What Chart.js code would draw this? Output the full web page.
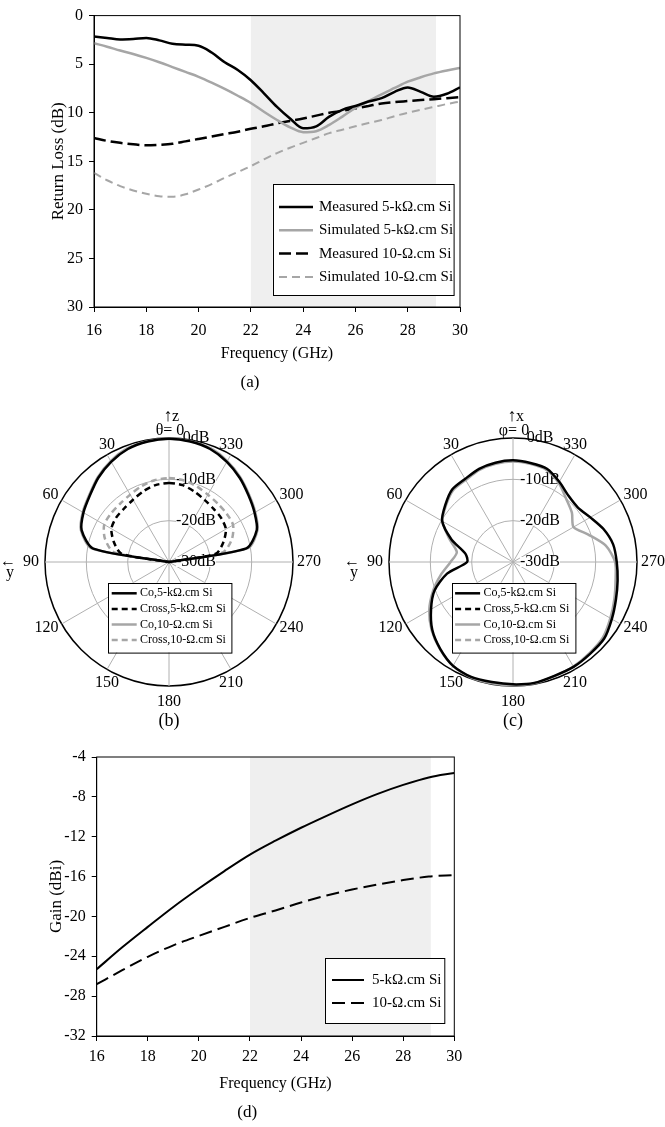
<!DOCTYPE html>
<html lang="en">
<head>
<meta charset="utf-8">
<title>Return loss, radiation patterns and gain</title>
<script src="https://cdn.jsdelivr.net/npm/chart.js@4.4.1/dist/chart.umd.min.js"></script>
<style>
  body { margin: 0; background: #fff; }
  #painel { position: relative; width: 665px; height: 1127px; }
  #painel canvas { position: absolute; }
</style>
</head>
<body>
<div id="painel">
  <canvas id="grafico-perda" width="665" height="400" style="left:0;top:0"></canvas>
  <canvas id="grafico-theta" width="340" height="330" style="left:0;top:400px"></canvas>
  <canvas id="grafico-phi" width="325" height="330" style="left:340px;top:400px"></canvas>
  <canvas id="grafico-ganho" width="665" height="397" style="left:0;top:730px"></canvas>
</div>
<script>
const FONTE = '"Liberation Serif", "Times New Roman", serif';

// (a) return loss (dB) vs frequency (GHz)
const frequencias = [16, 16.5, 17, 17.5, 18, 18.5, 19, 19.5, 20, 20.5, 21, 21.5, 22, 22.5, 23,
  23.5, 24, 24.5, 25, 25.5, 26, 26.5, 27, 27.5, 28, 28.5, 29, 29.5, 30];
const medido5k = [2.15, 2.3, 2.45, 2.4, 2.3, 2.55, 2.9, 3.0, 3.1, 3.8, 4.8, 5.6, 6.65, 8.0, 9.4,
  10.6, 11.6, 11.4, 10.4, 9.7, 9.3, 8.85, 8.5, 7.85, 7.4, 7.85, 8.35, 8.05, 7.4];
const simulado5k = [2.85, 3.2, 3.6, 3.95, 4.35, 4.8, 5.3, 5.8, 6.3, 6.9, 7.55, 8.25, 9.0, 9.9, 10.75,
  11.5, 12.0, 11.9, 11.25, 10.4, 9.5, 8.8, 8.1, 7.45, 6.8, 6.35, 5.95, 5.65, 5.4];
const medido10 = [12.6, 12.9, 13.1, 13.25, 13.35, 13.3, 13.2, 12.95, 12.7, 12.45, 12.2, 11.95, 11.65, 11.4, 11.1,
  10.85, 10.6, 10.3, 10.0, 9.8, 9.55, 9.3, 9.05, 8.9, 8.8, 8.7, 8.6, 8.5, 8.4];
const simulado10 = [16.2, 16.95, 17.55, 18.0, 18.35, 18.6, 18.65, 18.4, 17.9, 17.35, 16.7, 16.1, 15.5, 14.8, 14.15,
  13.6, 13.1, 12.6, 12.1, 11.75, 11.4, 11.05, 10.75, 10.35, 10.0, 9.7, 9.4, 9.1, 8.85];
const ticksPerda = [0, 5, 10, 15, 20, 25, 30];
const ticksFreq = [16, 18, 20, 22, 24, 26, 28, 30];
const banda = [22, 29.08];

// (d) gain (dBi) vs frequency (GHz)
const frequenciasGanho = [16, 17, 18, 19, 20, 21, 22, 23, 24, 25, 26, 27, 28, 29, 30];
const ganho5k = [-25.3, -23.1, -21.05, -19.05, -17.2, -15.45, -13.8, -12.4, -11.1, -9.9, -8.75, -7.7, -6.8, -6.05, -5.6];
const ganho10 = [-26.8, -25.4, -24.05, -22.9, -21.95, -21.05, -20.15, -19.4, -18.6, -17.9, -17.3, -16.8, -16.35, -16.0, -15.85];
const ticksGanho = [-32, -28, -24, -20, -16, -12, -8, -4];

// (b)/(c) patterns in dB, angles counter-clockwise from the top; -30 is the floor of the plot
const angulos = [0, 10, 20, 30, 40, 50, 60, 70, 80, 90, 100, 110, 120, 130, 140, 150, 160, 170,
  180, 190, 200, 210, 220, 230, 240, 250, 260, 270, 280, 290, 300, 310, 320, 330, 340, 350];
const aneisDb = [-30, -20, -10, 0];
const coTheta5k = [-0.2, -0.4, -0.9, -2.0, -3.4, -5.0, -6.1, -7.5, -11.4, -30,
  -30, -30, -30, -30, -30, -30, -30, -30, -30, -30, -30, -30, -30, -30, -30, -30, -30,
  -30, -11.0, -7.4, -6.1, -4.9, -3.4, -2.0, -0.9, -0.4];
const crossTheta5k = [-10.9, -11.1, -11.8, -12.6, -13.1, -13.3, -13.9, -15.8, -18.3, -30,
  -30, -30, -30, -30, -30, -30, -30, -30, -30, -30, -30, -30, -30, -30, -30, -30, -30,
  -30, -18.5, -16.0, -14.1, -13.5, -13.2, -12.7, -11.9, -11.1];
const coTheta10 = [-0.1, -0.3, -0.7, -1.8, -3.2, -4.8, -5.9, -7.3, -11.0, -30,
  -30, -30, -30, -30, -30, -30, -30, -30, -30, -30, -30, -30, -30, -30, -30, -30, -30,
  -30, -10.6, -7.2, -5.9, -4.7, -3.2, -1.8, -0.7, -0.3];
const crossTheta10 = [-9.7, -9.9, -10.5, -11.2, -11.6, -11.7, -11.9, -13.5, -16.5, -30,
  -30, -30, -30, -30, -30, -30, -30, -30, -30, -30, -30, -30, -30, -30, -30, -30, -30,
  -30, -16.8, -13.8, -12.1, -11.8, -11.6, -11.2, -10.5, -9.9];
const coPhi5k = [-5.4, -5.6, -6.0, -6.8, -7.1, -8.6, -10.2, -14.2, -18.3, -18.9,
  -13.8, -9.8, -7.1, -4.5, -2.6, -1.0, -0.4, -0.5, -0.4,
  -0.3, -0.7, -0.7, -1.0, -1.2, -2.4, -3.5, -4.3, -4.9,
  -5.4, -6.7, -8.4, -9.5, -9.1, -7.6, -6.0, -5.7];
const coPhi10 = [-5.7, -5.9, -6.3, -7.1, -7.4, -8.8, -10.3, -13.6, -16.2, -14.9,
  -12.3, -9.4, -6.6, -4.3, -2.5, -1.0, -0.3, -0.2, -0.2,
  -0.2, -0.6, -0.8, -1.2, -1.6, -2.8, -3.9, -4.8, -5.3,
  -7.2, -10.6, -13.1, -11.4, -10.0, -7.9, -6.3, -5.9];
const crossPhi5k = [];   // below -30 dB, nothing drawn
const crossPhi10 = [];

// gray band behind the line charts
const faixa = {
  id: 'faixa',
  beforeDraw(chart, args, o) {
    const { ctx, chartArea: a, scales: { x } } = chart;
    const x0 = x.getPixelForValue(o.de);
    const x1 = x.getPixelForValue(o.ate);
    ctx.save();
    ctx.fillStyle = '#efefef';
    ctx.fillRect(x0, a.top, x1 - x0, a.bottom - a.top);
    ctx.restore();
  }
};

// box round the plot area
const moldura = {
  id: 'moldura',
  afterDatasetsDraw(chart) {
    const { ctx, chartArea: a } = chart;
    ctx.save();
    ctx.strokeStyle = '#000';
    ctx.lineWidth = 1;
    ctx.strokeRect(a.left, a.top, a.right - a.left, a.bottom - a.top);
    ctx.restore();
  }
};

// boxed legend at a fixed spot, built from the datasets
const caixaLegenda = {
  id: 'caixaLegenda',
  afterDraw(chart, args, o) {
    const ctx = chart.ctx;
    ctx.save();
    ctx.fillStyle = '#fff';
    ctx.fillRect(o.x, o.y, o.w, o.h);
    ctx.strokeStyle = '#000';
    ctx.lineWidth = 1;
    ctx.strokeRect(Math.round(o.x) + 0.5, Math.round(o.y) + 0.5, o.w, o.h);
    ctx.font = o.tamanho + 'px ' + FONTE;
    ctx.textBaseline = 'middle';
    ctx.textAlign = 'left';
    chart.data.datasets.forEach((ds, i) => {
      const y = o.y + o.primeira + i * o.passo;
      ctx.strokeStyle = ds.borderColor;
      ctx.lineWidth = ds.borderWidth;
      ctx.setLineDash(ds.borderDash || []);
      ctx.beginPath();
      ctx.moveTo(o.x + o.linha[0], y);
      ctx.lineTo(o.x + o.linha[1], y);
      ctx.stroke();
      ctx.setLineDash([]);
      ctx.fillStyle = '#000';
      ctx.fillText(ds.label, o.x + o.texto, y);
    });
    ctx.restore();
  }
};

// ring labels, angle labels and captions of the polar plots
const textoPolar = {
  id: 'textoPolar',
  beforeDatasetsDraw(chart) {
    const r = chart.scales.r, ctx = chart.ctx;
    ctx.save();
    ctx.font = '16px ' + FONTE;
    ctx.textAlign = 'center';
    ctx.textBaseline = 'middle';
    r.ticks.forEach(t => {
      const txt = t.value + 'dB';
      const y = r.yCenter - r.getDistanceFromCenterForValue(t.value);
      const w = ctx.measureText(txt).width;
      if (t.value !== 0) {
        ctx.fillStyle = '#fff';
        ctx.fillRect(r.xCenter + 27 - w / 2, y - 5, w, 10);
      }
      ctx.fillStyle = '#000';
      ctx.fillText(txt, r.xCenter + 27, y);
    });
    ctx.restore();
  },
  afterDraw(chart, args, o) {
    const r = chart.scales.r, ctx = chart.ctx;
    const cx = r.xCenter, cy = r.yCenter, R = r.drawingArea;
    ctx.save();
    ctx.fillStyle = '#000';
    ctx.font = '16px ' + FONTE;
    ctx.textBaseline = 'middle';
    chart.data.labels.forEach((rot, i) => {
      const ang = Number(rot);
      if (ang % 30 !== 0 || ang === 0) return;
      const p = r.getPointPosition(i, R);
      let x = p.x, y = p.y;
      ctx.textAlign = 'center';
      if (ang === 30 || ang === 330) y -= 10;
      else if (ang === 150 || ang === 210) y += 13;
      else if (ang === 180) y += 16;
      else if (ang < 180) {
        ctx.textAlign = 'right';
        x -= ang === 90 ? 6 : 3;
        y += ang === 60 ? -5 : ang === 120 ? 4 : 0;
      } else {
        ctx.textAlign = 'left';
        x += ang === 270 ? 4 : 3;
        y += ang === 300 ? -5 : ang === 240 ? 4 : 0;
      }
      ctx.fillText(rot, x, y);
      if (ang === 90) {
        const esq = x - ctx.measureText(rot).width;
        ctx.textAlign = 'center';
        ctx.fillText('←', esq - 15, y);
        ctx.fillText(o.eixoLado, esq - 13, y + 11);
      }
    });
    ctx.textAlign = 'center';
    ctx.fillText(o.topo, cx + 1, cy - R - 7);
    ctx.font = '18px ' + FONTE;
    ctx.fillText('↑', cx - 1, cy - R - 22);
    ctx.font = '16px ' + FONTE;
    ctx.textAlign = 'left';
    ctx.fillText(o.eixoTopo, cx + 3, cy - R - 21);
    ctx.textAlign = 'center';
    ctx.font = '18px ' + FONTE;
    ctx.fillText(o.letra, cx, cy + 159);
    ctx.restore();
  }
};

function criarGraficoLinha(id, cfg) {
  const ctx = document.getElementById(id).getContext('2d');
  new Chart(ctx, {
    type: 'line',
    data: {
      datasets: cfg.series.map(s => ({
        label: s.nome,
        data: s.x.map((f, i) => ({ x: f, y: s.valores[i] })),
        borderColor: s.cor,
        borderWidth: s.largura,
        borderDash: s.traco || [],
        pointRadius: 0,
        fill: false,
        cubicInterpolationMode: 'monotone'
      }))
    },
    options: {
      responsive: false,
      animation: false,
      events: [],
      layout: { padding: { left: 40, right: cfg.direita, top: cfg.topo, bottom: cfg.baixo } },
      plugins: {
        legend: { display: false },
        tooltip: { enabled: false },
        title: {
          display: true, text: cfg.letra, position: 'bottom', color: '#000',
          font: { family: FONTE, size: 17, weight: 'normal' }, padding: { top: 4, bottom: 4 }
        },
        faixa: { de: banda[0], ate: banda[1] },
        caixaLegenda: cfg.legenda
      },
      scales: {
        x: {
          type: 'linear', min: 16, max: 30,
          afterBuildTicks: s => { s.ticks = ticksFreq.map(v => ({ value: v })); },
          afterFit: s => { s.height = cfg.alturaX; },
          ticks: { color: '#000', font: { family: FONTE, size: 16 }, padding: cfg.padTickX, maxRotation: 0 },
          grid: { drawOnChartArea: false, color: '#000', tickLength: 5 },
          border: { color: '#000' },
          title: {
            display: true, text: 'Frequency (GHz)', color: '#000',
            font: { family: FONTE, size: 16 }, padding: { top: 0, bottom: cfg.padTituloX }
          }
        },
        y: {
          min: cfg.min, max: cfg.max, reverse: cfg.inverso,
          afterBuildTicks: s => { s.ticks = cfg.ticksY.map(v => ({ value: v })); },
          afterFit: s => { s.width = cfg.larguraY; },
          ticks: { color: '#000', font: { family: FONTE, size: 16 }, padding: 6 },
          grid: { drawOnChartArea: false, color: '#000', tickLength: 5 },
          border: { color: '#000' },
          title: {
            display: true, text: cfg.tituloY, color: '#000',
            font: { family: FONTE, size: 17 }, padding: { top: cfg.padTituloY, bottom: 0 }
          }
        }
      }
    },
    plugins: [faixa, moldura, caixaLegenda]
  });
}

function criarGraficoPolar(id, series, padEsq, padDir, legenda, textos) {
  // Chart.js goes clockwise, the figure counter-clockwise
  const ordem = angulos.map((a, i) => (angulos.length - i) % angulos.length);
  const ctx = document.getElementById(id).getContext('2d');
  new Chart(ctx, {
    type: 'radar',
    data: {
      labels: ordem.map(k => String(angulos[k])),
      datasets: series.map(s => ({
        label: s.nome,
        data: s.valores.length ? ordem.map(k => s.valores[k]) : [],
        borderColor: s.cor,
        borderWidth: s.largura,
        borderDash: s.traco || [],
        backgroundColor: 'transparent',
        fill: false,
        pointRadius: 0,
        tension: 0.25
      }))
    },
    options: {
      responsive: false,
      animation: false,
      events: [],
      layout: { padding: { left: padEsq, right: padDir, top: 38, bottom: 44 } },
      plugins: {
        legend: { display: false },
        tooltip: { enabled: false },
        caixaLegenda: legenda,
        textoPolar: textos
      },
      scales: {
        r: {
          min: -30, max: 0,
          afterBuildTicks: s => { s.ticks = aneisDb.map(v => ({ value: v })); },
          ticks: { display: false },
          pointLabels: { display: false },
          grid: {
            circular: true,
            color: c => c.tick.value === 0 ? '#000' : '#b0b0b0',
            lineWidth: c => c.tick.value === 0 ? 1.5 : 1
          },
          angleLines: {
            color: c => Number(c.label) % 30 === 0 ? '#b0b0b0' : 'transparent',
            lineWidth: 1
          }
        }
      }
    },
    plugins: [textoPolar, caixaLegenda]
  });
}

const CINZA = '#a6a6a6';

window.addEventListener('load', () => {
  criarGraficoLinha('grafico-perda', {
    series: [
      { nome: 'Measured 5-kΩ.cm Si', x: frequencias, valores: medido5k, cor: '#000', largura: 2.5 },
      { nome: 'Simulated 5-kΩ.cm Si', x: frequencias, valores: simulado5k, cor: CINZA, largura: 2.5 },
      { nome: 'Measured 10-Ω.cm Si', x: frequencias, valores: medido10, cor: '#000', largura: 2.5, traco: [12, 5] },
      { nome: 'Simulated 10-Ω.cm Si', x: frequencias, valores: simulado10, cor: CINZA, largura: 2, traco: [8, 5] }
    ],
    min: 0, max: 30, inverso: true, ticksY: ticksPerda, tituloY: 'Return Loss (dB)', letra: '(a)',
    topo: 13, direita: 205, baixo: 3.6, alturaX: 61, padTickX: 9, padTituloX: 4.5,
    larguraY: 54, padTituloY: 8,
    legenda: { x: 272.7, y: 184.3, w: 180.6, h: 111, primeira: 22.7, passo: 23.3, linha: [6.3, 40.3], texto: 46.3, tamanho: 15 }
  });

  criarGraficoPolar('grafico-theta', [
    { nome: 'Co,5-kΩ.cm Si', valores: coTheta5k, cor: '#000', largura: 2.5 },
    { nome: 'Cross,5-kΩ.cm Si', valores: crossTheta5k, cor: '#000', largura: 2.5, traco: [6, 4] },
    { nome: 'Co,10-Ω.cm Si', valores: coTheta10, cor: CINZA, largura: 2.5 },
    { nome: 'Cross,10-Ω.cm Si', valores: crossTheta10, cor: CINZA, largura: 2.5, traco: [6, 4] }
  ], 45, 47,
  { x: 108.3, y: 182.7, w: 123.4, h: 69.6, primeira: 10.6, passo: 15.6, linha: [3.4, 28.4], texto: 31.7, tamanho: 12 },
  { topo: 'θ= 0', eixoTopo: 'z', eixoLado: 'y', letra: '(b)' });

  criarGraficoPolar('grafico-phi', [
    { nome: 'Co,5-kΩ.cm Si', valores: coPhi5k, cor: '#000', largura: 2.5 },
    { nome: 'Cross,5-kΩ.cm Si', valores: crossPhi5k, cor: '#000', largura: 2.5, traco: [6, 4] },
    { nome: 'Co,10-Ω.cm Si', valores: coPhi10, cor: CINZA, largura: 2.5 },
    { nome: 'Cross,10-Ω.cm Si', valores: crossPhi10, cor: CINZA, largura: 2.5, traco: [6, 4] }
  ], 49, 28,
  { x: 111.7, y: 182.7, w: 123.4, h: 69.6, primeira: 10.6, passo: 15.6, linha: [3.4, 28.4], texto: 31.7, tamanho: 12 },
  { topo: 'φ= 0', eixoTopo: 'x', eixoLado: 'y', letra: '(c)' });

  criarGraficoLinha('grafico-ganho', {
    series: [
      { nome: '5-kΩ.cm Si', x: frequenciasGanho, valores: ganho5k, cor: '#000', largura: 2 },
      { nome: '10-Ω.cm Si', x: frequenciasGanho, valores: ganho10, cor: '#000', largura: 2, traco: [13, 6] }
    ],
    min: -32, max: -4, inverso: false, ticksY: ticksGanho, tituloY: 'Gain (dBi)', letra: '(d)',
    topo: 27, direita: 210.7, baixo: 0, alturaX: 62.6, padTickX: 6, padTituloX: 5.4,
    larguraY: 56.7, padTituloY: 6.8,
    legenda: { x: 325, y: 228, w: 119.3, h: 65, primeira: 22, passo: 23, linha: [7, 39], texto: 47, tamanho: 15 }
  });
});
</script>
</body>
</html>
